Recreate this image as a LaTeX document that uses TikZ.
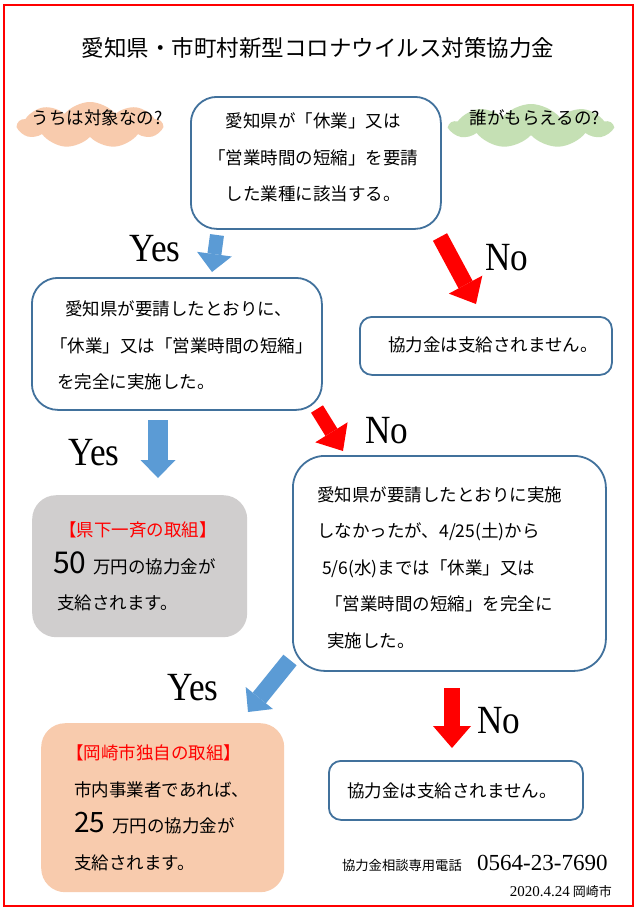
\documentclass[tikz,border=0pt]{standalone}
\usepackage{fontspec}
\setmainfont{Noto Sans CJK JP}
\newfontfamily\ynfont{Liberation Serif}
\usepackage{tikz}
\usetikzlibrary{positioning}
\usetikzlibrary{arrows.meta}
\usetikzlibrary{shapes.symbols}
\colorlet{framec}{red}
\colorlet{noc}{red}
\definecolor{qboxc}{HTML}{41719C}
\definecolor{yesc}{HTML}{5B9BD5}
\definecolor{askc}{HTML}{F8CBAD}
\definecolor{whoc}{HTML}{C5E0B4}
\definecolor{prefc}{HTML}{D0CECE}
\colorlet{cityc}{askc}

\begin{document}
\begin{tikzpicture}[x=1pt,y=-1pt,
        qbox/.style={anchor=north west, shape=rectangle, draw=qboxc, line width=1.8pt, fill=white, rounded corners=#1},
        qbox/.default=26pt,
        fillbox/.style={anchor=north west, shape=rectangle, fill=#1, rounded corners=24pt},
        body/.style={inner sep=0pt, align=left, font=\fontsize{17.5}{36.5}\selectfont},
        yesno/.style={inner sep=0pt, anchor=base, xscale=0.88, font=\ynfont\fontsize{40}{40}\selectfont},
        asks/.style={shape=cloud, cloud puffs=9, cloud puff arc=100, cloud ignores aspect, inner sep=0pt},
        yesarrow/.style={draw=yesc, line width=17pt, -{Triangle[length=18pt 0 0, width=35pt 0 0, line width=0pt 0 0]}},
        noarrow/.style={draw=noc, line width=16pt, -{Triangle[length=22pt 0 0, width=38pt 0 0, line width=0pt 0 0]}}]
        \useasboundingbox (0,0) rectangle (640,914);
        \fill[white] (0,0) rectangle (640,914);
        \draw[framec, line width=1.6pt] (4,5) rectangle (633,906);

        % title and the two clouds
        \node[inner sep=0pt, font=\fontsize{22.5}{27}\selectfont] (title) at (318,48) {愛知県・市町村新型コロナウイルス対策協力金};
        \node[asks, fill=askc, minimum width=144pt, minimum height=46pt] (askcloud) at (90,125) {};
        \node[body] (asktext) at (97,118) {うちは対象なの?};
        \node[asks, fill=whoc, minimum width=162pt, minimum height=44pt] (whocloud) at (531,126) {};
        \node[body] (whotext) at (535,118) {誰がもらえるの?};

        % boxes
        \node[qbox, minimum width=250pt, minimum height=132pt] (q1) at (190,96) {};
        \node[qbox, minimum width=290pt, minimum height=132pt] (q2) at (31,277) {};
        \node[qbox=12pt, minimum width=252pt, minimum height=58pt] (n1) at (359,316) {};
        \node[fillbox=prefc, minimum width=215pt, minimum height=142pt] (pref) at (32,495) {};
        \node[qbox=32pt, minimum width=313pt, minimum height=215pt] (q3) at (292,455) {};
        \node[fillbox=cityc, minimum width=243pt, minimum height=169pt] (city) at (41,723) {};
        \node[qbox=12pt, minimum width=254pt, minimum height=59pt] (n2) at (328,760) {};

        % texts in the boxes
        \node[body, align=center] (q1text) at (313,157.5) {愛知県が「休業」又は\\「営業時間の短縮」を要請\\した業種に該当する。};
        \node[body, anchor=west] (q2text) at (50,345.5) {\hspace*{15pt}愛知県が要請したとおりに、\\「休業」又は「営業時間の短縮」\\\hspace*{7pt}を完全に実施した。};
        \node[body, anchor=west] (n1text) at (388,345) {協力金は支給されません。};
        \node[body, anchor=west] (preftext) at (53,566.5) {\hspace*{6pt}\textcolor{noc}{【県下一斉の取組】}\\{\fontsize{30}{30}\selectfont 50}\hspace{7pt}万円の協力金が\\\hspace*{4pt}支給されます。};
        \node[body, anchor=west] (q3text) at (317,567.5) {愛知県が要請したとおりに実施\\しなかったが、4/25(土)から\\\hspace*{5pt}5/6(水)までは「休業」又は\\\hspace*{8pt}「営業時間の短縮」を完全に\\\hspace*{10pt}実施した。};
        \node[body, anchor=west] (citytext) at (66,808) {\textcolor{noc}{【岡崎市独自の取組】}\\\hspace*{8pt}市内事業者であれば、\\\hspace*{8pt}{\fontsize{28}{28}\selectfont 25}\hspace{7pt}万円の協力金が\\\hspace*{8pt}支給されます。};
        \node[body] (n2text) at (452,791) {協力金は支給されません。};

        % block arrows
        \coordinate (ya1s) at (217,235);
        \coordinate (ya1e) at (212,272);
        \coordinate (na1s) at (440,237);
        \coordinate (na1e) at (476,304);
        \coordinate (ya2s) at (158,420);
        \coordinate (ya2e) at (158,478);
        \coordinate (na2s) at (317,409);
        \coordinate (na2e) at (343,451);
        \coordinate (ya3s) at (290,660);
        \coordinate (ya3e) at (248,712);
        \coordinate (na3s) at (452,688);
        \coordinate (na3e) at (452,748);
        \draw[yesarrow, line width=14pt] (ya1s) -- (ya1e);
        \draw[noarrow] (na1s) -- (na1e);
        \draw[yesarrow, line width=20pt] (ya2s) -- (ya2e);
        \draw[noarrow, line width=14pt] (na2s) -- (na2e);
        \draw[yesarrow] (ya3s) -- (ya3e);
        \draw[noarrow] (na3s) -- (na3e);

        \node[yesno] (yes1) at (155,261) {Yes};
        \node[yesno] (no1) at (507,270) {No};
        \node[yesno] (yes2) at (94,465) {Yes};
        \node[yesno] (no2) at (387,443) {No};
        \node[yesno] (yes3) at (193,700) {Yes};
        \node[yesno] (no3) at (499,733) {No};

        % footer
        \node[inner sep=0pt, anchor=east, font=\fontsize{13.3}{16}\selectfont] (tellabel) at (462,865) {協力金相談専用電話};
        \node[inner sep=0pt, anchor=base west, font=\ynfont\fontsize{23}{26}\selectfont] (telno) at (477,870) {0564-23-7690};
        \node[inner sep=0pt, anchor=east, font=\fontsize{13}{16}\selectfont] (issued) at (612,892) {{\ynfont\fontsize{15}{16}\selectfont 2020.4.24} 岡崎市};
\end{tikzpicture}
\end{document}
